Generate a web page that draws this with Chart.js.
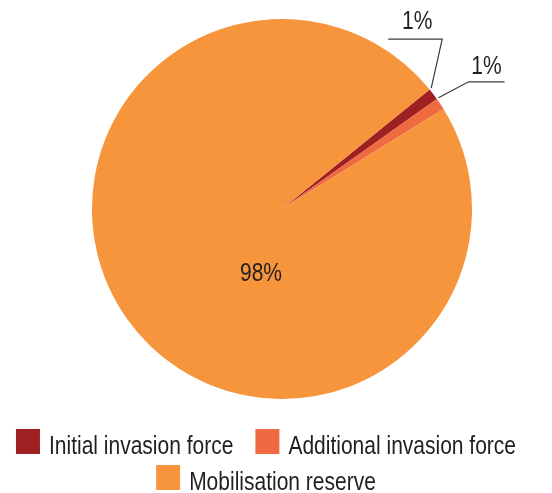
<!DOCTYPE html>
<html>
<head>
<meta charset="utf-8">
<script src="https://cdn.jsdelivr.net/npm/chart.js@4"></script>
<style>
  html, body { margin: 0; padding: 0; background: #fff; }
</style>
</head>
<body>
<canvas id="pie" width="552" height="493"></canvas>
<script>
  // chart data
  const categories = ['Initial invasion force', 'Additional invasion force', 'Mobilisation reserve'];
  const shares = [1, 1, 98];
  const shareLabels = ['1%', '1%', '98%'];
  const sliceColors = ['#9e2021', '#f06a41', '#f6953c'];
  const legendRows = [[0, 1], [2]];

  const textColor = '#231f20';
  const narrow = 0.84; // squeeze Liberation Sans into a narrow face

  // draw text squeezed horizontally, anchored at x
  function narrowText(ctx, text, x, y, align) {
    const w = ctx.measureText(text).width * narrow;
    let left = x;
    if (align === 'center') left = x - w / 2;
    ctx.save();
    ctx.translate(left, y);
    ctx.scale(narrow, 1);
    ctx.textAlign = 'left';
    ctx.fillText(text, 0, 0);
    ctx.restore();
    return w;
  }

  // labels + leader lines, anchored on the arc elements
  const pieLabels = {
    id: 'pieLabels',
    afterDatasetsDraw(chart) {
      const ctx = chart.ctx;
      const arcs = chart.getDatasetMeta(0).data;
      ctx.save();
      ctx.font = "25px 'Liberation Sans', Arial, sans-serif";
      ctx.fillStyle = textColor;
      ctx.strokeStyle = '#3a3a3a';
      ctx.lineWidth = 1.2;
      ctx.textBaseline = 'alphabetic';

      arcs.forEach((arc, i) => {
        const { x, y, startAngle, outerRadius } = arc.getProps(['x', 'y', 'startAngle', 'outerRadius'], true);
        const px = x + Math.cos(startAngle) * (outerRadius + 2);
        const py = y + Math.sin(startAngle) * (outerRadius + 2);
        if (i === 0) {
          // up, then left
          ctx.beginPath();
          ctx.moveTo(px, py);
          ctx.lineTo(px + 11, py - 49);
          ctx.lineTo(px - 43, py - 49);
          ctx.stroke();
          narrowText(ctx, shareLabels[i], px - 14, py - 59, 'center');
        } else if (i === 1) {
          // up-right, then right
          ctx.beginPath();
          ctx.moveTo(px, py);
          ctx.lineTo(px + 30, py - 16);
          ctx.lineTo(px + 66, py - 16);
          ctx.stroke();
          narrowText(ctx, shareLabels[i], px + 48, py - 24, 'center');
        } else {
          narrowText(ctx, shareLabels[i], x - 21, y + 72, 'center');
        }
      });
      ctx.restore();
    }
  };

  // legend drawn under the pie, rows centred
  const pieLegend = {
    id: 'pieLegend',
    afterDraw(chart) {
      const ctx = chart.ctx;
      const colors = chart.data.datasets[0].backgroundColor;
      const box = 24, gap = 9, spacing = 22, midX = 266;
      ctx.save();
      ctx.font = "25px 'Liberation Sans', Arial, sans-serif";
      ctx.textBaseline = 'alphabetic';
      legendRows.forEach((row, r) => {
        const top = 429 + r * 36;
        const widths = row.map(i => box + gap + ctx.measureText(chart.data.labels[i]).width * narrow);
        const total = widths.reduce((a, b) => a + b, 0) + spacing * (row.length - 1);
        let cx = midX - total / 2;
        row.forEach((i, k) => {
          ctx.fillStyle = colors[i];
          ctx.fillRect(cx, top, box, 25);
          ctx.fillStyle = textColor;
          narrowText(ctx, chart.data.labels[i], cx + box + gap, top + 25, 'left');
          cx += widths[k] + spacing;
        });
      });
      ctx.restore();
    }
  };

  const chart = new Chart(document.getElementById('pie'), {
    type: 'pie',
    data: {
      labels: categories,
      datasets: [{ data: shares, backgroundColor: sliceColors, borderWidth: 0 }]
    },
    options: {
      responsive: false,
      animation: false,
      rotation: 51,
      layout: { padding: { left: 92, right: 80, top: 19, bottom: 94 } },
      plugins: {
        legend: { display: false },
        tooltip: { enabled: false }
      }
    },
    plugins: [pieLabels, pieLegend]
  });
</script>
</body>
</html>
